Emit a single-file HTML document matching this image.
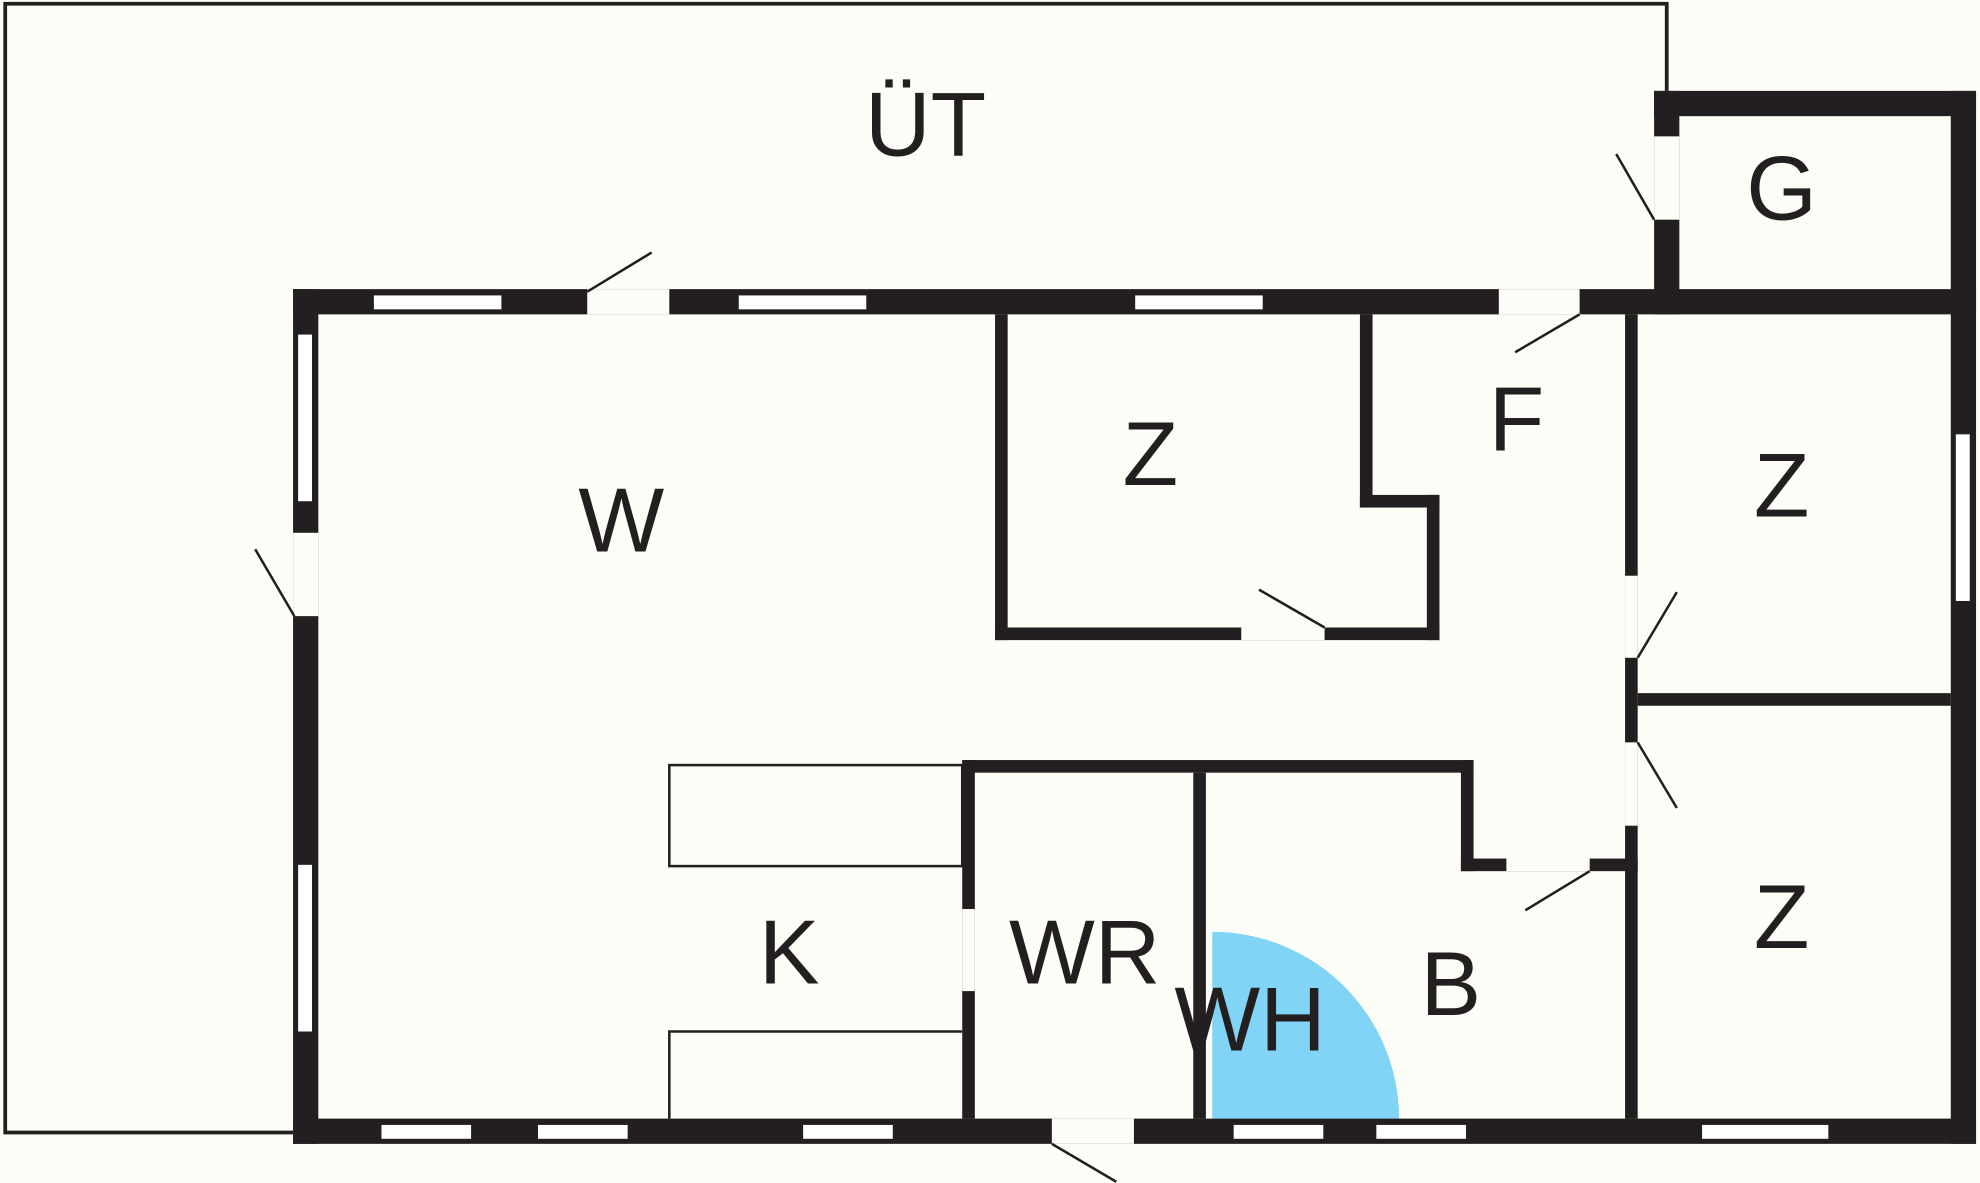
<!DOCTYPE html>
<html><head><meta charset="utf-8"><style>
html,body{margin:0;padding:0;background:#fdfdf7;}
svg{display:block;}
text{font-family:"Liberation Sans",sans-serif;font-size:72px;fill:#231f20;text-anchor:middle;}
</style></head><body>
<svg width="1980" height="1183" viewBox="0 0 1568 937" xmlns="http://www.w3.org/2000/svg">
<rect width="1568" height="937" fill="#fdfdf7"/>
<!-- outer UT -->
<polyline points="1320,72 1320,3 4,3 4,897 232,897" fill="none" stroke="#231f20" stroke-width="3"/>
<path d="M960,738 A148,148 0 0 1 1108,886 L960,886 Z" fill="#82d4f7"/>
<g fill="#231f20">
<!-- outer walls -->
<rect x="232" y="229" width="1333" height="20"/>
<rect x="232" y="229" width="20" height="677"/>
<rect x="232" y="886" width="1333" height="20"/>
<rect x="1545" y="72" width="20" height="834"/>
<rect x="1310" y="72" width="255" height="20"/>
<rect x="1310" y="72" width="20" height="177"/>
<!-- interior -->
<rect x="788" y="249" width="10" height="258"/>
<rect x="788" y="497" width="352" height="10"/>
<rect x="1130" y="392" width="10" height="115"/>
<rect x="1077" y="392" width="63" height="10"/>
<rect x="1077" y="249" width="10" height="153"/>
<rect x="1287" y="249" width="10" height="637"/>
<rect x="1297" y="549" width="248" height="10"/>
<rect x="762" y="602" width="405" height="10"/>
<rect x="1157" y="602" width="10" height="88"/>
<rect x="1157" y="680" width="140" height="10"/>
<rect x="762" y="602" width="10" height="284"/>
<rect x="945" y="612" width="10" height="274"/>
</g>
<g fill="#fdfdf7">
<!-- door gaps -->
<rect x="465" y="229" width="65" height="20"/>
<rect x="1187" y="229" width="64" height="20"/>
<rect x="232" y="422" width="20" height="66"/>
<rect x="833" y="886" width="65" height="20"/>
<rect x="1310" y="108" width="20" height="66"/>
<rect x="983" y="497" width="66" height="10"/>
<rect x="1287" y="456" width="10" height="65"/>
<rect x="1287" y="588" width="10" height="66"/>
<rect x="1193" y="680" width="66" height="10"/>
<rect x="762" y="720" width="10" height="65"/>
</g>
<g fill="#fff">
<rect x="296" y="234" width="101" height="11"/>
<rect x="585" y="234" width="101" height="11"/>
<rect x="899" y="234" width="101" height="11"/>
<rect x="236" y="265" width="11" height="132"/>
<rect x="236" y="685" width="11" height="132"/>
<rect x="302" y="891" width="71" height="11"/>
<rect x="426" y="891" width="71" height="11"/>
<rect x="636" y="891" width="71" height="11"/>
<rect x="977" y="891" width="71" height="11"/>
<rect x="1090" y="891" width="71" height="11"/>
<rect x="1348" y="891" width="100" height="11"/>
<rect x="1549" y="344" width="11" height="132"/>
</g>
<g fill="none" stroke="#231f20" stroke-width="2">
<rect x="530" y="606" width="232" height="80"/>
<polyline points="530,886 530,817 762,817"/>
<line x1="465" y1="231" x2="516" y2="200"/>
<line x1="1251" y1="249" x2="1200" y2="279"/>
<line x1="1310" y1="174" x2="1280" y2="122"/>
<line x1="233" y1="488" x2="202" y2="435"/>
<line x1="1049" y1="497" x2="997" y2="467"/>
<line x1="1297" y1="521" x2="1328" y2="469"/>
<line x1="1297" y1="588" x2="1328" y2="640"/>
<line x1="1259" y1="690" x2="1208" y2="721"/>
<line x1="833" y1="906" x2="884" y2="936"/>
</g>
<text x="733" y="123">ÜT</text>
<text x="1411" y="174">G</text>
<text x="492" y="437">W</text>
<text x="911" y="384">Z</text>
<text x="1201" y="357">F</text>
<text x="1411" y="409">Z</text>
<text x="1411" y="751">Z</text>
<text x="625" y="779">K</text>
<text x="859" y="779">WR</text>
<text x="990" y="832">WH</text>
<text x="1149" y="804">B</text>
</svg>
</body></html>
